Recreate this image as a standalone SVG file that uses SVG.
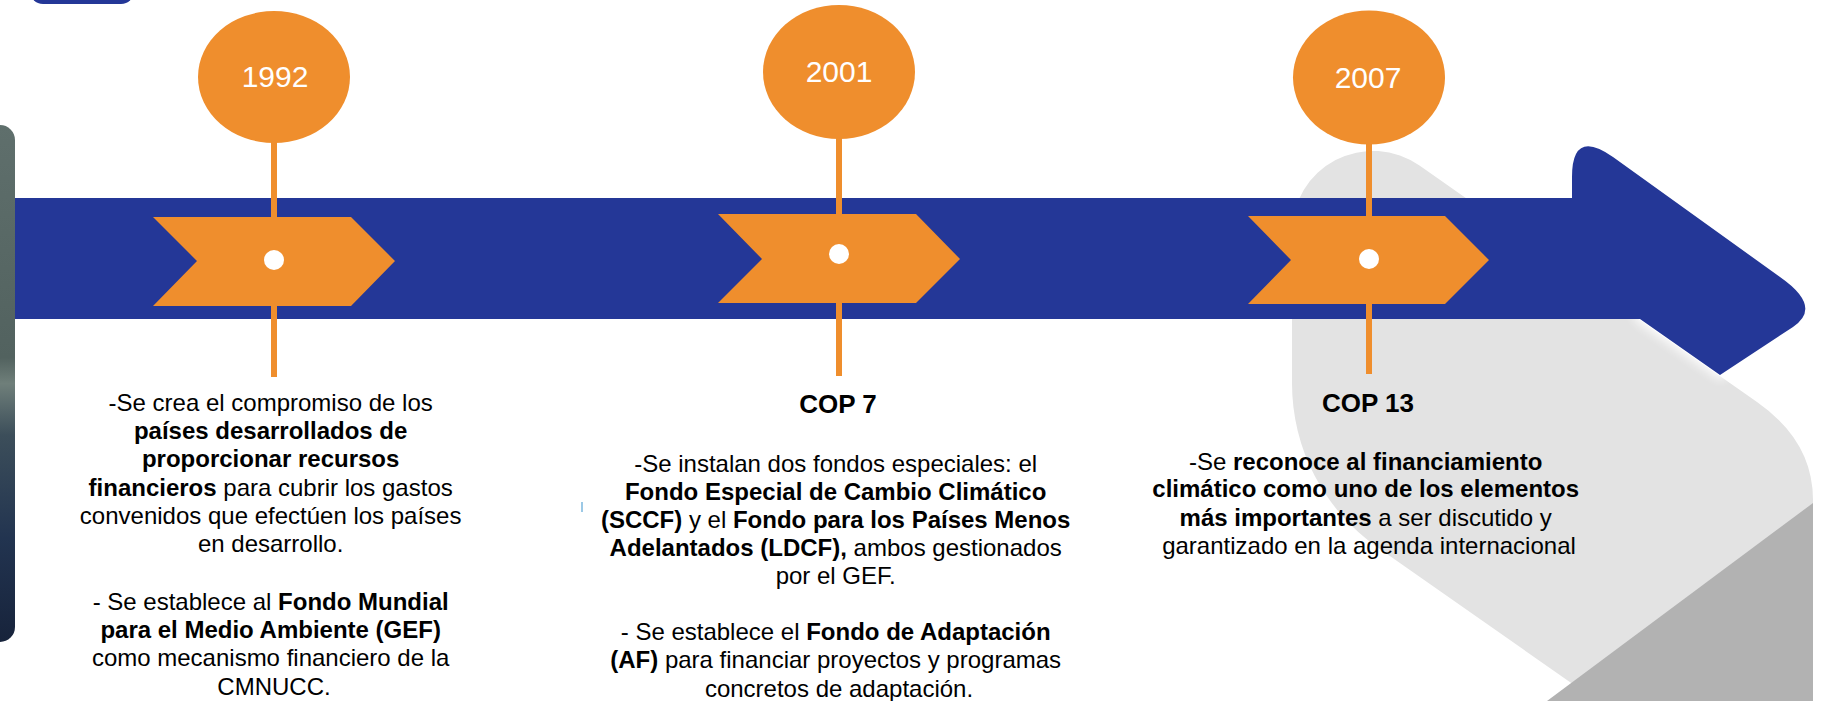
<svg xmlns="http://www.w3.org/2000/svg" width="1824" height="701" viewBox="0 0 1824 701">
  <defs>
    <style>
      .txt { font-family: "Liberation Sans", Arial, sans-serif; font-size: 24px; fill: #000; text-anchor: middle; }
      .b { font-weight: bold; }
      .cop { font-family: "Liberation Sans", Arial, sans-serif; font-size: 26px; font-weight: bold; fill: #000; text-anchor: middle; }
      .year { font-family: "Liberation Sans", Arial, sans-serif; font-size: 30px; fill: #fff; text-anchor: middle; }
      .orange { fill: #EF8E2D; }
      .stem { stroke: #EF8E2D; stroke-width: 6; fill: none; }
      .dot { fill: #fff; }
      .blue { fill: #243797; }
    </style>
    <linearGradient id="strip" x1="0" y1="0" x2="0" y2="1">
      <stop offset="0" stop-color="#5f6f6c"/>
      <stop offset="0.45" stop-color="#52625f"/>
      <stop offset="0.5" stop-color="#6f7f7a"/>
      <stop offset="0.6" stop-color="#3c4e5a"/>
      <stop offset="0.8" stop-color="#223450"/>
      <stop offset="1" stop-color="#17233b"/>
    </linearGradient>
    <filter id="glow" x="-20%" y="-20%" width="140%" height="140%">
      <feGaussianBlur stdDeviation="5"/>
    </filter>
  </defs>

  <rect width="1824" height="701" fill="#fff"/>

  <!-- background decorative shapes -->
  <g id="background">
    <path d="M 1292 232 A 81 81 0 0 1 1419.5 165.6 L 1757 402 Q 1813 441 1813 500 L 1813 701 L 1597 701 L 1377 547 A 200 200 0 0 1 1292 383.5 Z" fill="#e3e3e3"/>
    <polygon points="1813,503 1547,701 1813,701" fill="#b2b2b2"/>
    <rect x="-20" y="125" width="35" height="517" rx="15" fill="url(#strip)"/>
    <rect x="30" y="-24" width="104" height="28" rx="13" class="blue"/>
    <rect x="581" y="502" width="2" height="10" fill="#9cc9e6"/>
  </g>

  <!-- timeline bar with arrowhead -->
  <g id="timeline">
    <path d="M 1572 177 Q 1572 128 1613 157 L 1780 277 Q 1823 307 1793 327 L 1720 375 L 1640 319 Z" fill="#fff" stroke="#fff" stroke-width="8" filter="url(#glow)" opacity="0.9"/>
    <path d="M 15 198 L 1572 198 L 1572 177 Q 1572 128 1613 157 L 1780 277 Q 1823 307 1793 327 L 1720 375 L 1640 319 L 15 319 Z" class="blue"/>
  </g>

  <!-- connectors (stems) -->
  <g id="connectors">
    <line x1="274" y1="138" x2="274" y2="377" class="stem"/>
    <line x1="839" y1="134" x2="839" y2="376" class="stem"/>
    <line x1="1369" y1="139" x2="1369" y2="374" class="stem"/>
  </g>

  <!-- 1992 -->
  <g id="node-1992">
    <ellipse cx="274" cy="77" rx="76" ry="66" class="orange"/>
    <text x="275" y="87" class="year">1992</text>
    <polygon points="153,217 351,217 395,261 351,306 153,306 197,261" class="orange"/>
    <circle cx="274" cy="260" r="10" class="dot"/>
    <text class="txt">
      <tspan x="274" y="410.5">-Se crea el compromiso de los</tspan>
      <tspan x="274" y="438.9" class="b">países desarrollados de</tspan>
      <tspan x="274" y="467.2" class="b">proporcionar recursos</tspan>
      <tspan x="274" y="495.6"><tspan class="b">financieros</tspan> para cubrir los gastos</tspan>
      <tspan x="274" y="523.9">convenidos que efectúen los países</tspan>
      <tspan x="274" y="552.3">en desarrollo.</tspan>
      <tspan x="274" y="609.5">- Se establece al <tspan class="b">Fondo Mundial</tspan></tspan>
      <tspan x="274" y="637.8" class="b">para el Medio Ambiente (GEF)</tspan>
      <tspan x="274" y="666.2">como mecanismo financiero de la</tspan>
      <tspan x="274" y="694.5">CMNUCC.</tspan>
    </text>
  </g>

  <!-- 2001 -->
  <g id="node-2001">
    <ellipse cx="839" cy="72" rx="76" ry="67" class="orange"/>
    <text x="839" y="82" class="year">2001</text>
    <polygon points="718,214 916,214 960,259 916,303 718,303 762,259" class="orange"/>
    <circle cx="839" cy="254" r="10" class="dot"/>
    <text x="838" y="413" class="cop">COP 7</text>
    <text class="txt">
      <tspan x="839" y="471.7">-Se instalan dos fondos especiales: el</tspan>
      <tspan x="839" y="499.8" class="b">Fondo Especial de Cambio Climático</tspan>
      <tspan x="839" y="527.9"><tspan class="b">(SCCF)</tspan> y el <tspan class="b">Fondo para los Países Menos</tspan></tspan>
      <tspan x="839" y="556"><tspan class="b">Adelantados (LDCF),</tspan> ambos gestionados</tspan>
      <tspan x="839" y="584.1">por el GEF.</tspan>
      <tspan x="839" y="640.3">- Se establece el <tspan class="b">Fondo de Adaptación</tspan></tspan>
      <tspan x="839" y="668.4"><tspan class="b">(AF)</tspan> para financiar proyectos y programas</tspan>
      <tspan x="839" y="696.5">concretos de adaptación.</tspan>
    </text>
  </g>

  <!-- 2007 -->
  <g id="node-2007">
    <ellipse cx="1369" cy="77.5" rx="76" ry="67" class="orange"/>
    <text x="1368" y="88" class="year">2007</text>
    <polygon points="1248,216 1445,216 1489,260 1445,304 1248,304 1291,260" class="orange"/>
    <circle cx="1369" cy="259" r="10" class="dot"/>
    <text x="1368" y="412" class="cop">COP 13</text>
    <text class="txt">
      <tspan x="1369" y="470">-Se <tspan class="b">reconoce al financiamiento</tspan></tspan>
      <tspan x="1369" y="497" class="b">climático como uno de los elementos</tspan>
      <tspan x="1369" y="526"><tspan class="b">más importantes</tspan> a ser discutido y</tspan>
      <tspan x="1369" y="554">garantizado en la agenda internacional</tspan>
    </text>
  </g>
</svg>
